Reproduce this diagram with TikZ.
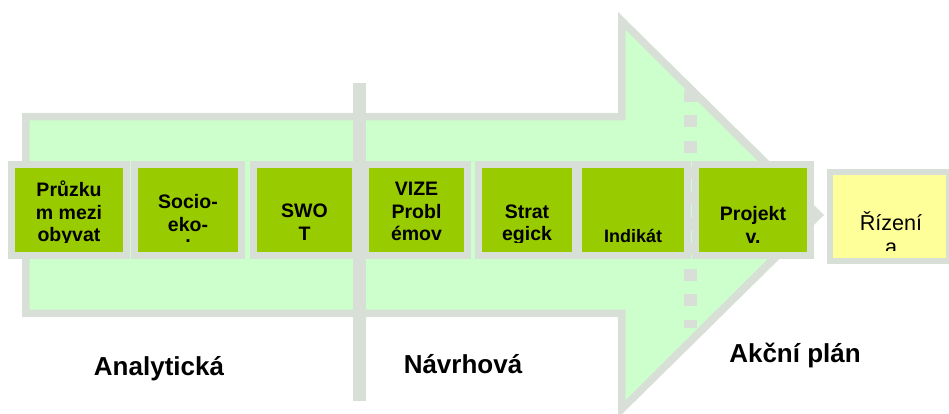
\documentclass[tikz,border=0pt]{standalone}
\usepackage{fontspec}
\setmainfont{Liberation Sans}
\definecolor{framegray}{RGB}{215,223,215}
\definecolor{arrowfill}{RGB}{204,255,204}
\definecolor{boxgreen}{RGB}{153,204,0}
\definecolor{boxyellow}{RGB}{255,255,153}
\tikzset{
  gbox/.style={draw=framegray, line width=7, fill=boxgreen, inner sep=0, minimum height=91},
  ybox/.style={draw=framegray, line width=6, fill=boxyellow, inner sep=0, minimum width=119, minimum height=89},
  btext/.style={anchor=base, align=center, inner sep=0, font=\fontsize{19.5}{22.5}\selectfont\bfseries},
  ytext/.style={anchor=base, align=center, inner sep=0, font=\fontsize{21.6}{24}\selectfont},
  phase/.style={anchor=base, inner sep=0, font=\fontsize{26}{30}\selectfont\bfseries}
}
\begin{document}
\begin{tikzpicture}[x=1pt,y=-1pt]
\useasboundingbox (0,0) rectangle (949,414);
% big arrow
\fill[framegray] (22,113) -- (618,113) -- (618,12) -- (824,215) -- (618,418) -- (618,317) -- (22,317) -- cycle;
\fill[arrowfill] (29.5,120.5) -- (625.5,120.5) -- (625.5,30) -- (812,215) -- (625.5,400) -- (625.5,309.5) -- (29.5,309.5) -- cycle;
% separators
\fill[framegray] (353,83) rectangle (366,401);
\draw[framegray, line width=13, dash pattern=on 12pt off 13.5pt] (690.5,90) -- (690.5,328);
% boxes
\node[gbox, minimum width=115] (b1) at (69,210) {};
\node[gbox, minimum width=107] (b2) at (188,210) {};
\node[gbox, minimum width=102] (b3) at (304.5,210) {};
\node[gbox, minimum width=102] (b4) at (416.5,210) {};
\node[gbox, minimum width=97] (b5) at (527,210) {};
\node[gbox, minimum width=109] (b6) at (633,210) {};
\node[gbox, minimum width=115] (b7) at (753,210) {};
\node[ybox] (y1) at (889.5,216.5) {};
% texts (clipped as in the original; base = last line)
\begin{scope}
\clip (15,168) rectangle (123,242.5);
\node[btext] (t1) at (69,241.5) {Průzku\\m mezi\\obyvat};
\end{scope}
\begin{scope}
\clip (138,168) rectangle (238,243);
\node[btext] (t2) at (188,242) {Socio-\\eko-\\[-11.5pt].};
\end{scope}
\begin{scope}
\clip (257,168) rectangle (352,243);
\node[btext] (t3) at (304.5,240) {SWO\\T};
\end{scope}
\begin{scope}
\clip (369,168) rectangle (464,243);
\node[btext] (t4) at (416.5,240.5) {VIZE\\Probl\\émov};
\end{scope}
\begin{scope}
\clip (482,168) rectangle (572,242.5);
\node[btext] (t5) at (527,240.5) {Strat\\egick};
\end{scope}
\begin{scope}
\clip (582,168) rectangle (684,245);
\node[btext, font=\fontsize{18}{21}\selectfont\bfseries] (t6) at (633,242.5) {Indikát};
\end{scope}
\begin{scope}
\clip (699,168) rectangle (807,243);
\node[btext] (t7) at (753,243) {Projekt\\v.};
\end{scope}
\begin{scope}
\clip (833,175) rectangle (946,250);
\node[ytext] (t8) at (891,254) {Řízení\\a};
\end{scope}
% phase labels
\node[phase] (l1) at (159,375) {Analytická};
\node[phase] (l2) at (463,373) {Návrhová};
\node[phase] (l3) at (795,362) {Akční plán};
\end{tikzpicture}
\end{document}
